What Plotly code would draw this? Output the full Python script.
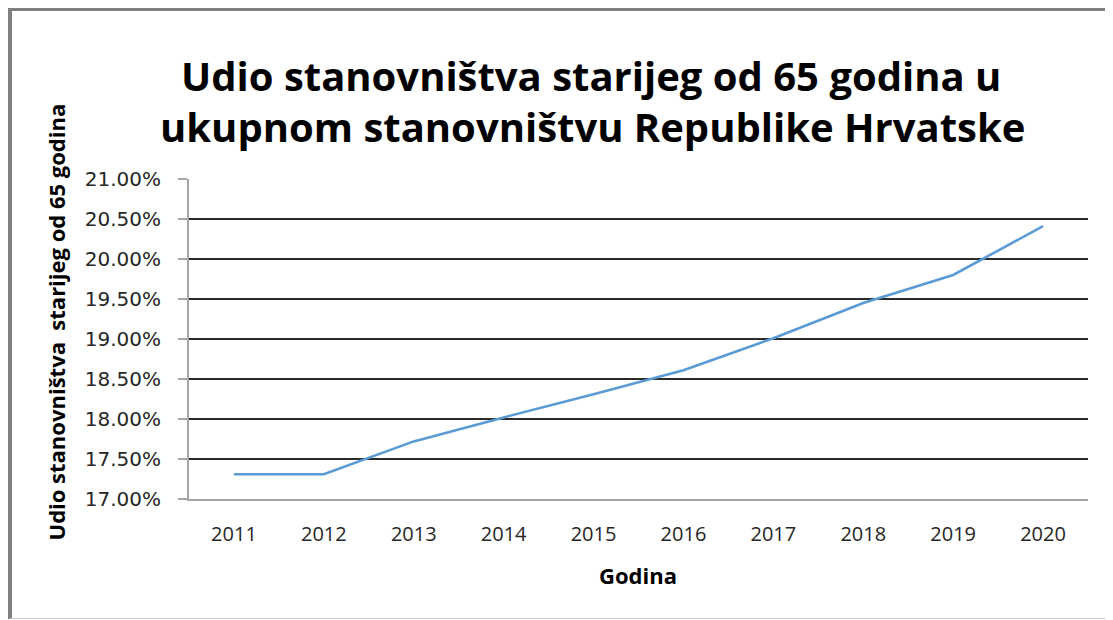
import plotly.graph_objects as go

years = ["2011", "2012", "2013", "2014", "2015", "2016", "2017", "2018", "2019", "2020"]
share_65plus = [17.31, 17.31, 17.72, 18.02, 18.31, 18.61, 19.01, 19.45, 19.80, 20.41]
y_ticks = [17.0, 17.5, 18.0, 18.5, 19.0, 19.5, 20.0, 20.5, 21.0]
y_tick_labels = ["%.2f%%" % v for v in y_ticks]

# page has an 8px body margin: figure coordinates = page coordinates - 8
W, H = 1105, 612
L, R, T, B = 181, 1080, 171, 491
pw, ph = R - L, B - T

def px(x):
    return (x - L) / pw

def py(y):
    return (B - y) / ph

fig = go.Figure()
fig.add_trace(go.Scatter(
    x=years, y=share_65plus, mode="lines",
    line=dict(color="#5B9BD5", width=2.6),
    showlegend=False, hoverinfo="x+y"))

fig.update_layout(
    width=W, height=H,
    margin=dict(l=L, r=W - R, t=T, b=H - B, pad=0),
    paper_bgcolor="white", plot_bgcolor="white",
    font=dict(family="DejaVu Sans", color="#262626"),
    xaxis=dict(
        type="category", range=[-0.5, 9.5],
        showline=True, linecolor="#A6A6A6", linewidth=2,
        showgrid=False, ticks="", tickfont=dict(size=20, family="Open Sans", color="#262626"),
        ticklabelstandoff=16,
    ),
    yaxis=dict(
        range=[17.0, 21.0], tickvals=y_ticks, ticktext=y_tick_labels,
        showline=True, linecolor="#A6A6A6", linewidth=2,
        ticks="outside", ticklen=9, tickcolor="#A6A6A6", tickwidth=2,
        showgrid=True, gridcolor="#2b2b2b", gridwidth=1.6,
        zeroline=False,
        tickfont=dict(size=20, family="DejaVu Sans", color="#262626"),
        ticklabelstandoff=13,
    ),
)

# Title
fig.add_annotation(xref="paper", yref="paper", x=px(583), y=py(67),
                   text="<b>Udio stanovništva starijeg od 65 godina u</b>",
                   showarrow=False, xanchor="center", yanchor="middle",
                   font=dict(size=40, family="Open Sans", color="#000"))
fig.add_annotation(xref="paper", yref="paper", x=px(584), y=py(119),
                   text="<b>ukupnom stanovništvu Republike Hrvatske</b>",
                   showarrow=False, xanchor="center", yanchor="middle",
                   font=dict(size=40, family="Open Sans", color="#000"))

# Axis titles
fig.add_annotation(xref="paper", yref="paper", x=px(629.5), y=py(567),
                   text="<b>Godina</b>", showarrow=False,
                   xanchor="center", yanchor="middle",
                   font=dict(size=22, family="Open Sans", color="#000"))
fig.add_annotation(xref="paper", yref="paper", x=px(47), y=py(314.5),
                   text="<b>Udio stanovništva  starijeg od 65 godina</b>", showarrow=False,
                   textangle=-90, xanchor="center", yanchor="middle",
                   font=dict(size=22, family="Open Sans", color="#000"))

# Frame
fig.add_shape(type="line", xref="paper", yref="paper", x0=px(1), x1=px(1104), y0=py(1.5), y1=py(1.5),
              line=dict(color="#7F7F7F", width=3))
fig.add_shape(type="line", xref="paper", yref="paper", x0=px(2), x1=px(2), y0=py(0), y1=py(611),
              line=dict(color="#7F7F7F", width=4))
fig.add_shape(type="line", xref="paper", yref="paper", x0=px(2), x1=px(1103), y0=py(610.5), y1=py(610.5),
              line=dict(color="#C8C8C8", width=1))
fig.add_shape(type="line", xref="paper", yref="paper", x0=px(1103.5), x1=px(1103.5), y0=py(0), y1=py(611),
              line=dict(color="#C8C8C8", width=1))

fig.write_html("out.html")
